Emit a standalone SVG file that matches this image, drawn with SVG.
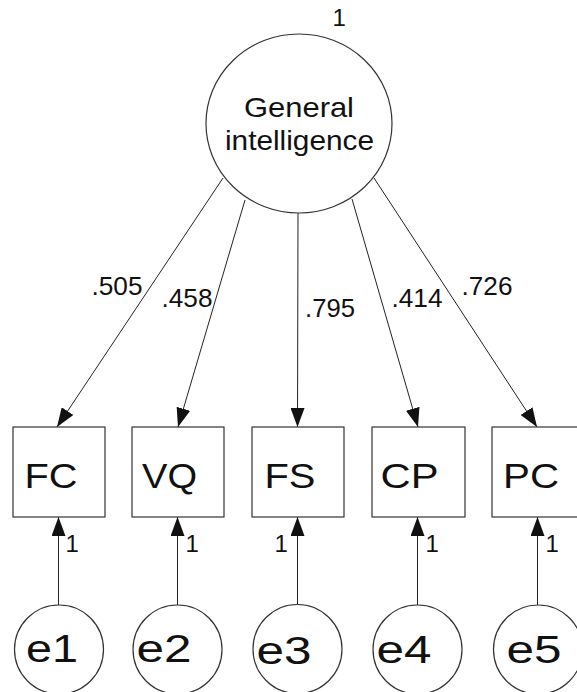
<svg xmlns="http://www.w3.org/2000/svg" width="577" height="692" viewBox="0 0 577 692">
  <style>
    .shape { fill: #ffffff; stroke: #333333; stroke-width: 1.2; }
    .conn { fill: none; stroke: #222222; stroke-width: 1; }
    text { font-family: "Liberation Sans", Arial, Helvetica, sans-serif; fill: #111111; }
    .big { font-size: 28px; text-anchor: middle; }
    .obs { font-size: 35px; text-anchor: middle; }
    .err { font-size: 39px; text-anchor: middle; }
    .coef { font-size: 25px; text-anchor: middle; }
    .one { font-size: 24px; }
  </style>
  <defs>
    <marker id="arrow" markerUnits="userSpaceOnUse" markerWidth="19" markerHeight="14" refX="19" refY="7" orient="auto">
      <path d="M0,0 L19,7 L0,14 z" fill="#111111"/>
    </marker>
  </defs>
  <rect width="577" height="692" fill="#ffffff"/>

  <g id="connectors">
    <line class="conn" x1="223" y1="178" x2="57" y2="427" marker-end="url(#arrow)"/>
    <line class="conn" x1="245" y1="200" x2="178" y2="427" marker-end="url(#arrow)"/>
    <line class="conn" x1="298" y1="213" x2="297.5" y2="427" marker-end="url(#arrow)"/>
    <line class="conn" x1="352" y1="199" x2="418" y2="427" marker-end="url(#arrow)"/>
    <line class="conn" x1="374" y1="178" x2="537" y2="427" marker-end="url(#arrow)"/>
    <line class="conn" x1="58.5" y1="605" x2="58.5" y2="517" marker-end="url(#arrow)"/>
    <line class="conn" x1="177.5" y1="605" x2="177.5" y2="517" marker-end="url(#arrow)"/>
    <line class="conn" x1="297.5" y1="604" x2="297.5" y2="517" marker-end="url(#arrow)"/>
    <line class="conn" x1="417.5" y1="605" x2="417.5" y2="517" marker-end="url(#arrow)"/>
    <line class="conn" x1="537.5" y1="605" x2="537.5" y2="517" marker-end="url(#arrow)"/>
    <text class="coef" x="117" y="295" textLength="51" lengthAdjust="spacingAndGlyphs">.505</text>
    <text class="coef" x="187" y="307" textLength="51" lengthAdjust="spacingAndGlyphs">.458</text>
    <text class="coef" x="330" y="317" textLength="50" lengthAdjust="spacingAndGlyphs">.795</text>
    <text class="coef" x="417" y="307" textLength="51" lengthAdjust="spacingAndGlyphs">.414</text>
    <text class="coef" x="487" y="295" textLength="51" lengthAdjust="spacingAndGlyphs">.726</text>
    <text class="one" x="65.5" y="552">1</text>
    <text class="one" x="185.5" y="552">1</text>
    <text class="one" x="274.5" y="552">1</text>
    <text class="one" x="425.5" y="552">1</text>
    <text class="one" x="545.5" y="552">1</text>
  </g>

  <g id="general-intelligence">
    <ellipse class="shape" cx="299" cy="123.5" rx="93" ry="89.5"/>
    <text class="one" x="332.5" y="26">1</text>
    <text class="big" x="299" y="117" textLength="110" lengthAdjust="spacingAndGlyphs">General</text>
    <text class="big" x="299.5" y="150" textLength="149" lengthAdjust="spacingAndGlyphs">intelligence</text>
  </g>

  <g id="FC">
    <rect class="shape" x="13" y="427" width="92" height="90"/>
    <text class="obs" x="51" y="488" textLength="53" lengthAdjust="spacingAndGlyphs">FC</text>
  </g>
  <g id="VQ">
    <rect class="shape" x="132" y="427" width="92" height="90"/>
    <text class="obs" x="169.5" y="488" textLength="55" lengthAdjust="spacingAndGlyphs">VQ</text>
  </g>
  <g id="FS">
    <rect class="shape" x="252" y="427" width="92" height="90"/>
    <text class="obs" x="290" y="488" textLength="51" lengthAdjust="spacingAndGlyphs">FS</text>
  </g>
  <g id="CP">
    <rect class="shape" x="372" y="427" width="93" height="90"/>
    <text class="obs" x="409.5" y="488" textLength="58" lengthAdjust="spacingAndGlyphs">CP</text>
  </g>
  <g id="PC">
    <rect class="shape" x="492" y="427" width="92" height="90"/>
    <text class="obs" x="531" y="488" textLength="56" lengthAdjust="spacingAndGlyphs">PC</text>
  </g>

  <g id="e1">
    <circle class="shape" cx="59" cy="649.5" r="44.5"/>
    <text class="err" x="52" y="662" textLength="52" lengthAdjust="spacingAndGlyphs">e1</text>
  </g>
  <g id="e2">
    <circle class="shape" cx="177.5" cy="649.5" r="44.5"/>
    <text class="err" x="164" y="662" textLength="55" lengthAdjust="spacingAndGlyphs">e2</text>
  </g>
  <g id="e3">
    <circle class="shape" cx="297.5" cy="649" r="44.5"/>
    <text class="err" x="284" y="664" textLength="55" lengthAdjust="spacingAndGlyphs">e3</text>
  </g>
  <g id="e4">
    <circle class="shape" cx="417.5" cy="649.5" r="44.5"/>
    <text class="err" x="404" y="663" textLength="55" lengthAdjust="spacingAndGlyphs">e4</text>
  </g>
  <g id="e5">
    <circle class="shape" cx="538" cy="649.5" r="44.5"/>
    <text class="err" x="534" y="663" textLength="55" lengthAdjust="spacingAndGlyphs">e5</text>
  </g>
</svg>
